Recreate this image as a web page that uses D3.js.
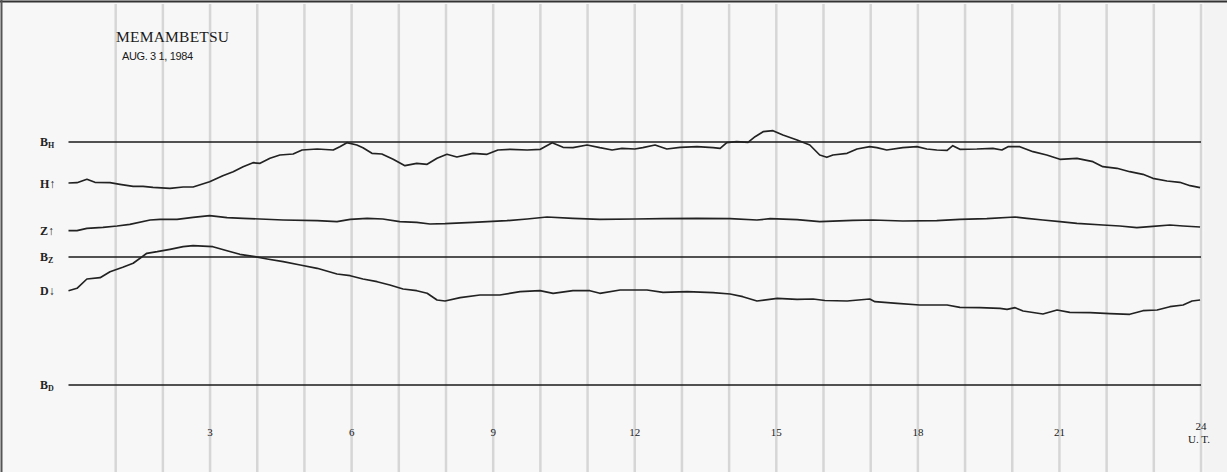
<!DOCTYPE html>
<html>
<head>
<meta charset="utf-8">
<script src="https://cdn.jsdelivr.net/npm/d3@7"></script>
<style>
  html, body { margin: 0; padding: 0; background: #f7f7f7; }
  svg { display: block; }
</style>
</head>
<body>
<svg id="chart"></svg>
<script>
// Trace readings: [hour UT, deflection in chart units above the B_D base line]
const H_TRACE = [
  [0.00, 202.0], [0.18, 202.3], [0.39, 205.7], [0.56, 202.7], [0.88, 202.3], [1.09, 200.7],
  [1.37, 198.7], [1.58, 198.7], [1.79, 197.7], [2.15, 196.7], [2.43, 198.0], [2.64, 198.0],
  [2.99, 203.3], [3.27, 209.3], [3.49, 213.3], [3.70, 218.3], [3.91, 222.3], [4.06, 221.7],
  [4.27, 226.7], [4.48, 230.0], [4.76, 231.0], [4.95, 235.0], [5.27, 236.0], [5.61, 235.0],
  [5.75, 238.3], [5.90, 242.3], [6.11, 240.0], [6.24, 237.3], [6.43, 231.7], [6.64, 231.0],
  [6.88, 225.7], [7.13, 219.3], [7.38, 221.7], [7.60, 220.7], [7.81, 226.7], [8.02, 230.7],
  [8.23, 228.0], [8.57, 231.7], [8.87, 230.7], [9.10, 235.0], [9.36, 235.7], [9.72, 235.0],
  [10.00, 235.7], [10.25, 242.3], [10.48, 237.7], [10.69, 237.3], [10.99, 240.0], [11.26, 237.3],
  [11.52, 235.0], [11.73, 236.7], [12.00, 236.0], [12.17, 237.3], [12.43, 240.0], [12.68, 236.0],
  [12.96, 237.7], [13.32, 238.3], [13.66, 237.3], [13.81, 236.7], [13.95, 242.3], [14.16, 243.3],
  [14.40, 242.7], [14.55, 248.3], [14.72, 253.3], [14.93, 254.3], [15.14, 250.0], [15.44, 245.0],
  [15.71, 240.0], [15.92, 230.0], [16.07, 227.7], [16.20, 230.0], [16.50, 231.7], [16.71, 236.0],
  [16.98, 238.3], [17.13, 237.3], [17.34, 235.0], [17.68, 237.3], [17.98, 238.3], [18.19, 236.0],
  [18.40, 235.0], [18.62, 234.7], [18.74, 239.3], [18.89, 235.7], [19.25, 236.0], [19.59, 236.7],
  [19.78, 235.0], [19.91, 238.3], [20.16, 238.3], [20.44, 233.3], [20.73, 230.0], [21.01, 225.7],
  [21.37, 226.7], [21.71, 223.3], [21.92, 218.3], [22.22, 216.7], [22.49, 213.3], [22.77, 210.7],
  [22.98, 206.7], [23.28, 204.0], [23.55, 202.7], [23.77, 199.3], [23.98, 197.3]
];

const Z_TRACE = [
  [0.00, 154.3], [0.18, 154.3], [0.39, 156.7], [0.73, 157.7], [1.03, 159.0], [1.30, 160.7],
  [1.73, 165.0], [1.94, 165.7], [2.30, 165.7], [2.64, 167.7], [2.99, 169.3], [3.36, 167.3],
  [3.70, 166.7], [4.55, 165.0], [5.27, 164.3], [5.69, 163.3], [5.97, 165.7], [6.33, 166.7],
  [6.66, 166.0], [7.02, 163.3], [7.38, 162.7], [7.66, 161.0], [7.98, 161.3], [8.57, 162.7],
  [9.29, 164.3], [9.72, 166.0], [10.14, 168.0], [10.69, 166.7], [11.26, 165.7], [12.00, 166.0],
  [12.60, 166.3], [13.32, 166.7], [14.02, 166.3], [14.59, 165.0], [14.87, 166.3], [15.44, 165.3],
  [15.92, 163.3], [16.62, 164.7], [17.05, 165.0], [17.68, 164.0], [18.40, 164.3], [18.89, 165.7],
  [19.46, 166.3], [20.06, 168.0], [20.31, 166.7], [20.65, 165.0], [21.01, 163.3], [21.37, 161.7],
  [21.92, 160.0], [22.28, 159.0], [22.64, 157.3], [22.98, 158.7], [23.34, 160.0], [23.62, 159.0],
  [23.98, 158.0]
];

const D_TRACE = [
  [0.00, 94.3], [0.18, 96.7], [0.39, 106.0], [0.67, 107.3], [0.88, 113.3], [1.15, 117.7],
  [1.37, 121.7], [1.66, 131.7], [1.88, 133.3], [2.15, 135.7], [2.43, 138.3], [2.64, 139.3],
  [3.06, 138.3], [3.36, 134.3], [3.63, 130.7], [3.95, 128.3], [4.21, 126.0], [4.55, 123.3],
  [4.91, 120.0], [5.27, 116.7], [5.69, 111.0], [5.97, 109.3], [6.24, 106.0], [6.54, 103.3],
  [6.81, 100.0], [7.09, 96.0], [7.38, 94.3], [7.60, 91.7], [7.81, 85.0], [7.98, 84.0],
  [8.30, 87.3], [8.72, 90.0], [9.14, 90.0], [9.57, 93.3], [9.99, 94.3], [10.27, 91.7],
  [10.69, 94.3], [11.05, 94.3], [11.26, 91.7], [11.69, 95.0], [12.26, 95.0], [12.60, 92.7],
  [13.11, 93.3], [13.66, 92.3], [14.02, 91.0], [14.29, 88.3], [14.59, 84.0], [15.02, 86.7],
  [15.44, 85.7], [15.78, 86.0], [16.03, 84.5], [16.50, 84.0], [16.98, 86.0], [17.09, 83.3],
  [17.56, 81.7], [18.04, 80.0], [18.62, 80.0], [18.89, 77.7], [19.31, 77.3], [19.74, 76.7],
  [19.89, 75.7], [20.06, 77.3], [20.23, 74.0], [20.65, 71.0], [20.95, 75.0], [21.22, 72.7],
  [21.65, 72.3], [22.07, 71.3], [22.49, 70.7], [22.77, 74.3], [23.07, 75.0], [23.34, 78.3],
  [23.62, 80.0], [23.81, 84.0], [23.98, 85.0]
];

// base lines and trace labels (level in the same units)
const BASE_LINES = [
  { sub: "H", level: 243 },
  { sub: "Z", level: 128 },
  { sub: "D", level: 0 }
];
const TRACE_LABELS = [
  { name: "H", arrow: "\u2191", level: 201 },
  { name: "Z", arrow: "\u2191", level: 154 },
  { name: "D", arrow: "\u2193", level: 94 }
];

const HOUR_TICKS = [3, 6, 9, 12, 15, 18, 21, 24];
const GRID_HOURS = d3.range(1, 25);

const STATION = "MEMAMBETSU";
const DATE_LABEL = "AUG. 3 1, 1984";

const WIDTH = 1227;
const HEIGHT = 472;

const svg = d3.select("#chart")
  .attr("width", WIDTH)
  .attr("height", HEIGHT)
  .style("font-family", '"Liberation Serif", "DejaVu Serif", serif');

const x = d3.scaleLinear().domain([0, 24]).range([68.5, 1201]);
const y = d3.scaleLinear().domain([0, 243]).range([385, 142]);

// paper
svg.append("rect")
  .attr("width", WIDTH)
  .attr("height", HEIGHT)
  .attr("fill", "#f7f7f7");
// lighter strip past the end of the record
svg.append("rect")
  .attr("x", x(24) + 3)
  .attr("width", WIDTH - x(24) - 3)
  .attr("height", HEIGHT)
  .attr("fill", "#f3f3f3");

// scan edges top and left
svg.append("line")
  .attr("x1", 0).attr("x2", WIDTH)
  .attr("y1", 1.5).attr("y2", 1.5)
  .attr("stroke", "#333").attr("stroke-width", 2);
svg.append("line")
  .attr("x1", 1.5).attr("x2", 1.5)
  .attr("y1", 0).attr("y2", HEIGHT)
  .attr("stroke", "#555").attr("stroke-width", 2);

// hourly grid
svg.append("g")
  .selectAll("line")
  .data(GRID_HOURS)
  .join("line")
  .attr("x1", (d) => x(d))
  .attr("x2", (d) => x(d))
  .attr("y1", 4)
  .attr("y2", HEIGHT)
  .attr("stroke", "#d6d6d6")
  .attr("stroke-width", 2.5);

// base lines
svg.append("g")
  .selectAll("line")
  .data(BASE_LINES)
  .join("line")
  .attr("x1", x(0))
  .attr("x2", x(24))
  .attr("y1", (d) => y(d.level))
  .attr("y2", (d) => y(d.level))
  .attr("stroke", "#1a1a1a")
  .attr("stroke-width", 1.6);

const baseText = svg.append("g")
  .selectAll("text")
  .data(BASE_LINES)
  .join("text")
  .attr("x", 40)
  .attr("y", (d) => y(d.level) + 4)
  .attr("font-size", 12)
  .attr("font-weight", "bold")
  .attr("fill", "#222");
baseText.append("tspan").text("B");
baseText.append("tspan")
  .attr("font-size", 8)
  .attr("dy", 2)
  .text((d) => d.sub);

svg.append("g")
  .selectAll("text")
  .data(TRACE_LABELS)
  .join("text")
  .attr("x", 40)
  .attr("y", (d) => y(d.level) + 4)
  .attr("font-size", 12)
  .attr("font-weight", "bold")
  .attr("fill", "#222")
  .text((d) => d.name + d.arrow);

// traces
const traceLine = d3.line()
  .x((d) => x(d[0]))
  .y((d) => y(d[1]))
  .curve(d3.curveLinear);

svg.append("g")
  .selectAll("path")
  .data([H_TRACE, Z_TRACE, D_TRACE])
  .join("path")
  .attr("d", traceLine)
  .attr("fill", "none")
  .attr("stroke", "#222")
  .attr("stroke-width", 1.7)
  .attr("stroke-linejoin", "round");

// hour axis labels
svg.append("g")
  .selectAll("text")
  .data(HOUR_TICKS)
  .join("text")
  .attr("x", (d) => x(d))
  .attr("y", (d) => (d === 24 ? 430 : 436))
  .attr("text-anchor", "middle")
  .attr("font-size", 11)
  .attr("fill", "#1a1a1a")
  .text((d) => d);

svg.append("text")
  .attr("x", x(24) - 2)
  .attr("y", 443)
  .attr("text-anchor", "middle")
  .attr("font-size", 11)
  .attr("fill", "#1a1a1a")
  .text("U. T.");

// header
svg.append("text")
  .attr("x", 116)
  .attr("y", 42)
  .attr("font-size", 15.5)
  .attr("fill", "#1a1a1a")
  .attr("textLength", 113)
  .text(STATION);

svg.append("text")
  .attr("x", 122)
  .attr("y", 60)
  .attr("font-family", '"Liberation Sans Narrow", "Liberation Sans", sans-serif')
  .attr("font-size", 11)
  .attr("fill", "#1a1a1a")
  .attr("textLength", 71)
  .text(DATE_LABEL);
</script>
</body>
</html>
